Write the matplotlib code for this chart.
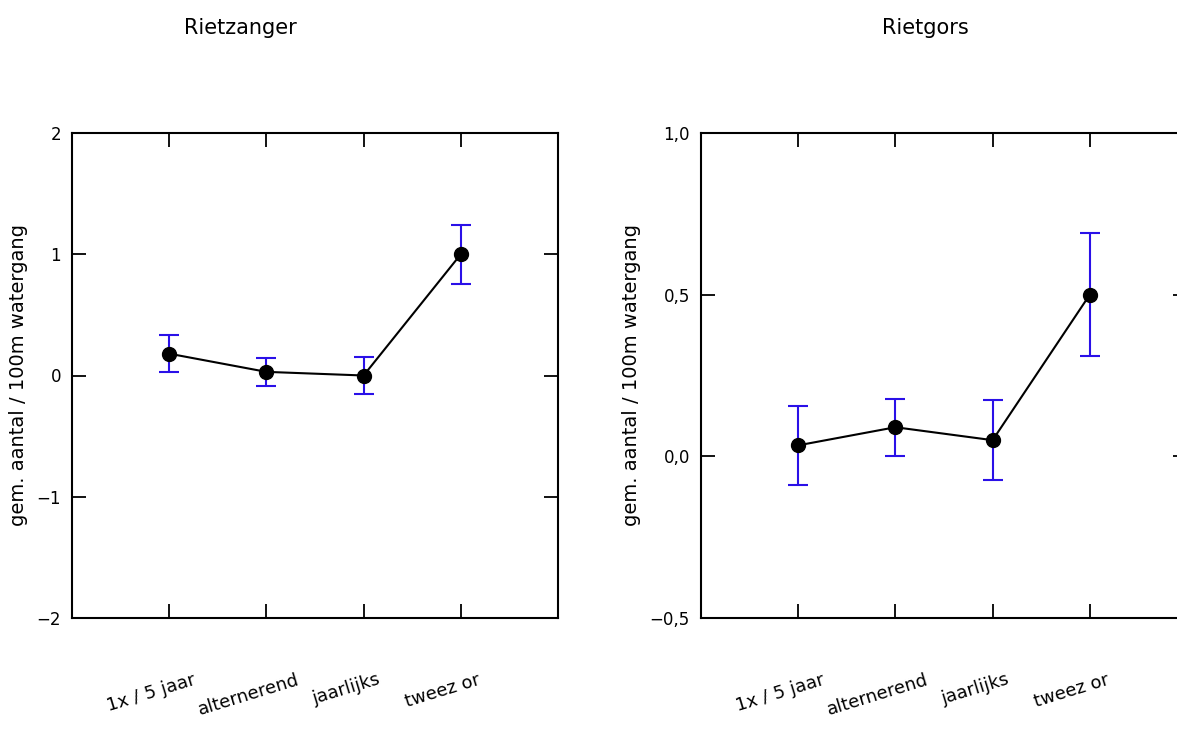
import matplotlib
matplotlib.use("Agg")
import matplotlib.pyplot as plt
import matplotlib.transforms as mtransforms

categories = ["1x / 5 jaar", "alternerend", "jaarlijks", "tweez or"]

# Rietzanger
rz_mean = [0.18, 0.03, 0.00, 1.00]
rz_err = [0.155, 0.115, 0.155, 0.245]
rz_yticks = [-2, -1, 0, 1, 2]
rz_ylabels = ["\u22122", "\u22121", "0", "1", "2"]

# Rietgors
rg_mean = [0.034, 0.09, 0.05, 0.50]
rg_err = [0.123, 0.088, 0.123, 0.19]
rg_yticks = [-0.5, 0.0, 0.5, 1.0]
rg_ylabels = ["\u22120,5", "0,0", "0,5", "1,0"]

W, H = 1177, 733
fig = plt.figure(figsize=(W / 100, H / 100), dpi=100)
plt.rcParams['font.family'] = ['DejaVu Sans']

ylab = "gem. aantal / 100m watergang"


def panel(left_px, mean, err, yticks, ylabels, ylabel_x):
    ax = fig.add_axes([left_px / W, 1 - 618 / H, 486 / W, 485 / H])
    x = list(range(1, len(categories) + 1))
    ax.errorbar(x, mean, yerr=err, fmt="none", ecolor="#2a10e8",
                elinewidth=1.5, capsize=7, capthick=1.5, zorder=2)
    ax.plot(x, mean, color="black", lw=1.5, marker="o", ms=10,
            markerfacecolor="black", zorder=3)
    ax.set_xlim(0, 5)
    ax.set_ylim(min(yticks), max(yticks))
    ax.set_xticks(x)
    ax.set_xticklabels(categories, rotation=17, ha="center", fontsize=13)
    ax.set_yticks(yticks)
    ax.set_yticklabels(ylabels, fontsize=12)
    ax.tick_params(direction="in", length=10, width=1.3, top=True, right=True)
    ax.tick_params(axis="x", pad=38)
    ax.tick_params(axis="y", pad=8)
    off = mtransforms.ScaledTranslation(-18 / 100, 0, fig.dpi_scale_trans)
    for lab in ax.get_xticklabels():
        lab.set_transform(lab.get_transform() + off)
    for s in ax.spines.values():
        s.set_linewidth(1.5)
    ax.set_ylabel(ylab, fontsize=14)
    ax.yaxis.set_label_coords((ylabel_x - left_px) / 486, 0.5)
    return ax


panel(72, rz_mean, rz_err, rz_yticks, rz_ylabels, 28)
panel(701, rg_mean, rg_err, rg_yticks, rg_ylabels, 641)

fig.text(240 / W, 1 - 28 / H, "Rietzanger", ha="center", va="center", fontsize=15)
fig.text(925 / W, 1 - 28 / H, "Rietgors", ha="center", va="center", fontsize=15)

fig.savefig("out.png", dpi=100)
